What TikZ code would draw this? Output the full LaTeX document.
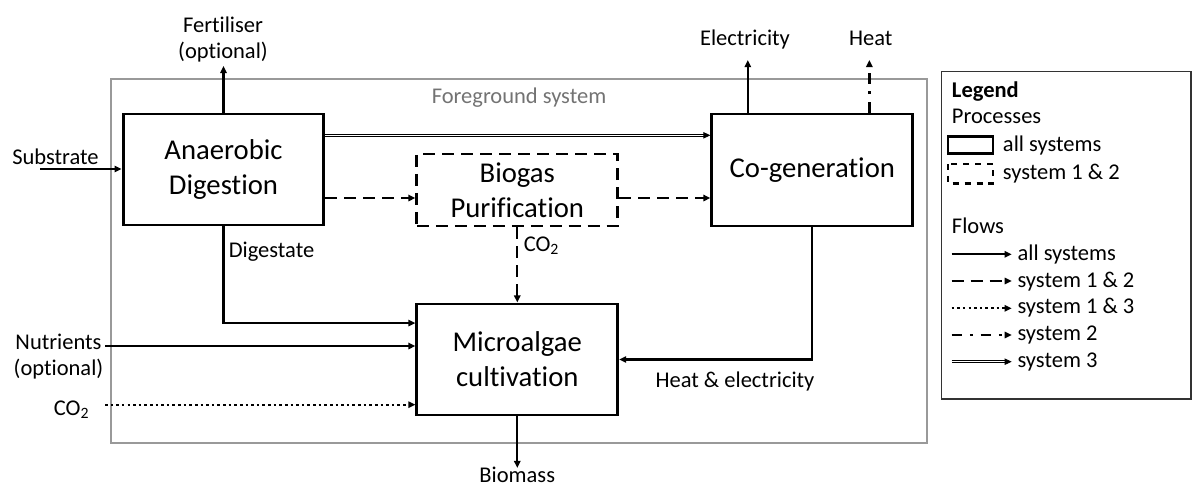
\documentclass[tikz,border=0pt]{standalone}
\usepackage{fontspec}
\setmainfont{Carlito}[RawFeature={-liga;-clig;-dlig}]
\usepackage{xcolor}
\usetikzlibrary{arrows.meta,calc}
\newcommand\procfont{\fontsize{20.4}{24.8}\selectfont}
\newcommand\lblfont{\fontsize{16}{18.4}\selectfont}
\tikzset{
  proc/.style={draw, rectangle, line width=2.1pt, align=center,
               minimum width=5.02cm, inner sep=0pt, font=\procfont},
  optproc/.style={proc, dash pattern=on 8.5pt off 5pt},
  lbl/.style={inner sep=0pt, align=center, font=\lblfont},
  tip/.style={-{Triangle[length=5pt,width=4.5pt]}},
  flow/.style={tip, line width=1.6pt},
  flowdash/.style={flow, dash pattern=on 8.5pt off 5pt},
  flowdot/.style={flow, dash pattern=on 1.8pt off 2.2pt},
  flowdashdot/.style={flow, dash pattern=on 7.5pt off 5.5pt on 2pt off 5.5pt},
  flowdouble/.style={tip, double, line width=0.6pt, double distance=1pt},
}

\begin{document}
\begin{tikzpicture}[x=0.025cm, y=-0.025cm]
  \useasboundingbox (0,0) rectangle (1192,488);
  % foreground system
  \draw[black!40, line width=0.8pt] (111,79) rectangle (927,443);
  \node[lbl, text=black!55] (fgsys) at (519,98) {Foreground system};
  % processes
  \node[proc, minimum height=2.775cm]    (AD) at (223.5,169.5) {Anaerobic\\Digestion};
  \node[optproc, minimum height=1.8cm]   (BP) at (517.3,190)   {Biogas\\Purification};
  \node[proc, minimum height=2.8cm]      (CG) at (812.3,170)   {Co-generation};
  \node[proc, minimum height=2.775cm]    (MC) at (517.3,359.5) {Microalgae\\cultivation};
  % inputs and outputs
  \node[lbl, anchor=base]      (sub)  at (55.5,164)  {Substrate};
  \node[lbl, anchor=base]      (fert) at (223,58)    {Fertiliser\\(optional)};
  \node[lbl, anchor=base]      (elec) at (745,45)    {Electricity};
  \node[lbl, anchor=base]      (heat) at (870.7,45)  {Heat};
  \node[lbl, anchor=base west] (dig)  at (228.5,257) {Digestate};
  \node[lbl, anchor=base west] (co2a) at (523.5,251) {CO\textsubscript{2}};
  \node[lbl, anchor=base]      (nutr) at (58.5,375)  {Nutrients\\(optional)};
  \node[lbl, anchor=base west] (co2b) at (53.6,415)  {CO\textsubscript{2}};
  \node[lbl, anchor=base]      (heel) at (735,387)   {Heat \& electricity};
  \node[lbl, anchor=base]      (bio)  at (517.3,482) {Biomass};
  \coordinate (subin)   at (40,169);
  \coordinate (fertend) at (223.5,66);
  \coordinate (elecend) at (747.8,60);
  \coordinate (heatend) at (869.4,60);
  \coordinate (nutin)   at (105,346);
  \coordinate (co2in)   at (105,404.7);
  \coordinate (bioend)  at (517.3,468);
  \coordinate (gasy)    at (0,198);
  \coordinate (s3)      at ($(AD.north east)!0.2!(AD.south east)$);
  % flows
  \draw[flow]        (subin) -- (AD.west |- subin);
  \draw[flow]        (AD.north) -- (fertend);
  \draw[flowdouble]  (s3) -- (CG.west |- s3);
  \draw[flowdash]    (AD.east |- gasy) -- (BP.west |- gasy);
  \draw[flowdash]    (BP.east |- gasy) -- (CG.west |- gasy);
  \draw[flow]        (CG.north -| elecend) -- (elecend);
  \draw[flowdashdot] (CG.north -| heatend) -- (heatend);
  \draw[flowdash]    (BP.south) -- (MC.north);
  \draw[flow]        (AD.south) |- ($(MC.north west)!0.18!(MC.south west)$);
  \draw[flow]        (nutin) -- (MC.west |- nutin);
  \draw[flowdot]     (co2in) -- (MC.west |- co2in);
  \draw[flow]        (CG.south) |- (MC.east);
  \draw[flow]        (MC.south) -- (bioend);
  % legend
  \draw[black!80, line width=0.9pt] (941.7,71.7) rectangle (1191,399);
  \node[lbl, anchor=base west, font=\lblfont\bfseries] (leg) at (951.7,97) {Legend};
  \node[lbl, anchor=base west] (legp)  at (951.7,123.5) {Processes};
  \draw[line width=2pt] (948,136.7) rectangle (993,153.3);
  \node[lbl, anchor=base west] (legp1) at (1002.7,151.7) {all systems};
  \draw[line width=2pt, dash pattern=on 4.5pt off 4pt] (948,164) rectangle (993,183.3);
  \node[lbl, anchor=base west] (legp2) at (1002.7,179.3) {system 1 \& 2};
  \node[lbl, anchor=base west] (legf)  at (951.7,233.3) {Flows};
  \draw[flow]        (951.7,254.3) -- (1011.7,254.3);
  \node[lbl, anchor=base west] (legf1) at (1017.3,260) {all systems};
  \draw[flowdash]    (951.7,281) -- (1011.7,281);
  \node[lbl, anchor=base west] (legf2) at (1017.3,287) {system 1 \& 2};
  \draw[flowdot]     (951.7,308.3) -- (1011.7,308.3);
  \node[lbl, anchor=base west] (legf3) at (1017.3,313.5) {system 1 \& 3};
  \draw[flowdashdot] (951.7,335) -- (1011.7,335);
  \node[lbl, anchor=base west] (legf4) at (1017.3,340) {system 2};
  \draw[flowdouble]  (951.7,361.7) -- (1011.7,361.7);
  \node[lbl, anchor=base west] (legf5) at (1017.3,367) {system 3};
\end{tikzpicture}
\end{document}
